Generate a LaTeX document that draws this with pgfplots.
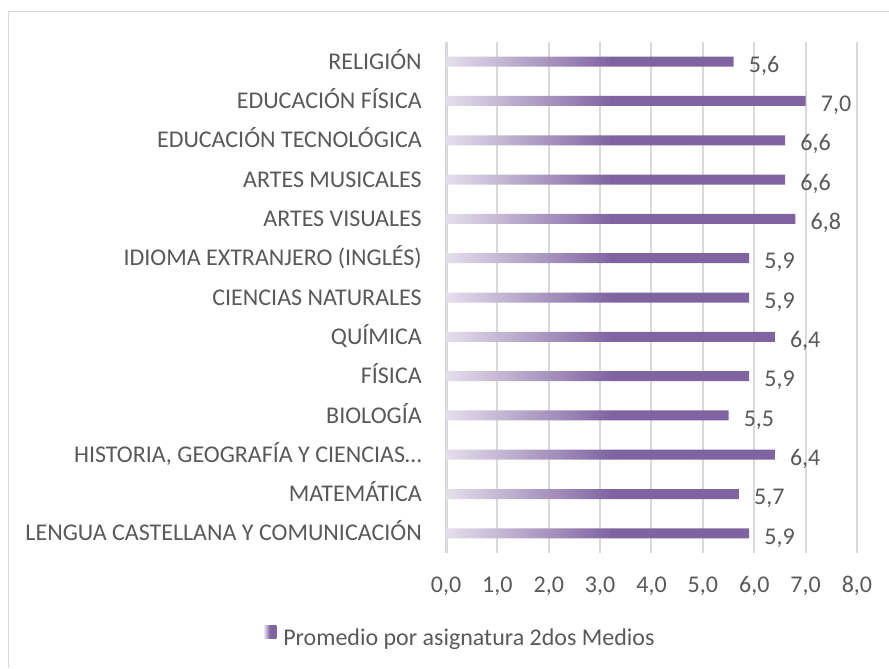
\documentclass[border=0pt]{standalone}
\usepackage{pgfplots}
\pgfplotsset{compat=1.18}
\usepackage{pgfplotstable}
\usepackage{fontspec}
\setmainfont{Carlito}
\definecolor{txt}{HTML}{595959}
\definecolor{grd}{HTML}{D9D9D9}
\definecolor{pl}{HTML}{E5DFEC}
\definecolor{pp}{HTML}{8064A2}
\pgfdeclarehorizontalshading{barshade}{100bp}{color(0bp)=(pl); color(25bp)=(pl); color(48bp)=(pp); color(100bp)=(pp)}
\pgfplotstableread{
y v
0 5.9
1 5.7
2 6.4
3 5.5
4 5.9
5 6.4
6 5.9
7 5.9
8 6.8
9 6.6
10 6.6
11 7.0
12 5.6
}\datatable
\begin{document}
\begin{tikzpicture}
\path[use as bounding box] (0,0) rectangle (666.75pt,-501pt);
\draw[grd, line width=0.9pt] (6.2pt,-501pt) -- (6.2pt,-8.5pt) -- (666.75pt,-8.5pt);
\begin{axis}[
  at={(334.5pt,-414.75pt)}, anchor=south west,
  scale only axis, width=308.25pt, height=383.25pt,
  xmin=0, xmax=8, ymin=-0.5, ymax=12.5,
  xtick={0,...,8}, ytick={0,...,12},
  yticklabels={LENGUA CASTELLANA Y COMUNICACIÓN, MATEMÁTICA, {HISTORIA, GEOGRAFÍA Y CIENCIAS…}, BIOLOGÍA, FÍSICA, QUÍMICA, CIENCIAS NATURALES, IDIOMA EXTRANJERO (INGLÉS), ARTES VISUALES, ARTES MUSICALES, EDUCACIÓN TECNOLÓGICA, EDUCACIÓN FÍSICA, RELIGIÓN},
  major tick length=0pt,
  axis line style={draw=none},
  xmajorgrids, grid style={grd, line width=1.5pt},
  /pgf/number format/fixed,
  /pgf/number format/fixed zerofill,
  /pgf/number format/precision=1,
  /pgf/number format/use comma,
  /pgf/number format/assume math mode=true,
  tick label style={font=\fontsize{18}{21}\selectfont, text=txt, inner sep=0pt},
  yticklabel style={anchor=base east, xshift=-18pt, yshift=-5.7pt},
  xticklabel style={anchor=base, yshift=-29.5pt},
  xbar, bar width=7.5pt,
  nodes near coords,
  every node near coord/.append style={font=\fontsize{18}{21}\selectfont, text=txt, anchor=base west, inner sep=0pt, xshift=11.25pt, yshift=-8pt},
  legend image code/.code={\shade[shading=barshade] (0pt,0pt) rectangle (9pt,9.75pt);},
  legend style={at={(-0.4428,-0.1664)}, anchor=base west, draw=none, fill=none, inner sep=0pt, font=\fontsize{18}{21}\selectfont, text=txt, nodes={inner sep=0pt}, column sep=5.25pt},
  legend cell align=left,
]
\draw[grd, line width=2.6pt] (axis cs:0,-0.5) -- (axis cs:0,12.5);
\addplot[draw=none, shading=barshade, shade] table[x=v, y=y] {\datatable};
\addlegendentry{Promedio por asignatura 2dos Medios}
\end{axis}
\end{tikzpicture}
\end{document}
